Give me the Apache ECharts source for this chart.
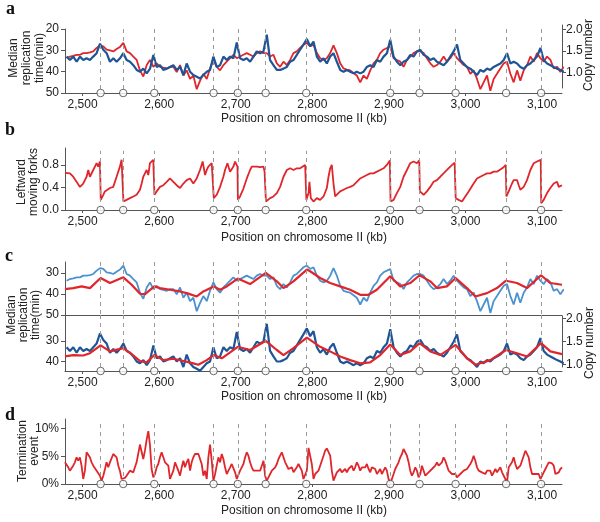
<!DOCTYPE html>
<html><head><meta charset="utf-8">
<script src="https://cdn.jsdelivr.net/npm/echarts@6/dist/echarts.min.js"></script>
<style>html,body{margin:0;padding:0;background:#fff}#c{width:600px;height:522px}</style>
</head><body><div id="c"></div>
<script>
// ---------- data ----------
const origins = [2523.5, 2553, 2593.6, 2671, 2702.6, 2739, 2792, 2901.7, 2940, 2987, 3053, 3098.7];
const xTicks = [2500, 2600, 2700, 2800, 2900, 3000, 3100];

// panel a / c positions (kb)
const posA = [2479.1,2483.4,2487.8,2492.2,2496.5,2500.9,2505.2,2509.6,2513.9,2518.3,
2522.7,2527.0,2531.4,2535.7,2540.1,2544.4,2548.8,2553.2,2557.5,2561.9,
2566.2,2570.6,2574.9,2579.3,2583.7,2588.0,2592.4,2596.7,2601.1,2605.4,
2609.8,2614.2,2618.5,2622.9,2627.2,2631.6,2635.9,2640.3,2644.6,2649.0,
2653.4,2657.7,2662.1,2666.4,2670.8,2675.1,2679.5,2683.9,2688.2,2692.6,
2696.9,2701.3,2705.6,2710.0,2714.3,2718.7,2723.1,2727.4,2731.8,2736.1,
2740.5,2744.8,2749.2,2753.6,2757.9,2762.3,2766.6,2771.0,2775.3,2779.7,
2784.0,2788.4,2792.8,2797.1,2801.5,
2805.9,2810.2,2814.6,2818.9,2823.3,2827.6,2832.0,2836.4,2840.7,2845.1,
2849.4,2853.8,2858.1,2862.5,2866.9,2871.2,2875.6,2879.9,2884.3,2888.6,
2893.0,2897.4,2901.7,2906.1,2910.4,2914.8,2919.1,2923.5,2927.9,2932.2,
2936.6,2940.9,2945.3,2949.6,2954.0,2958.4,2962.7,2967.1,2971.4,2975.8,
2980.1,2984.5,2988.9,2993.2,2997.6,3001.9,3006.3,3010.6,3015.0,3019.4,
3023.7,3028.1,3032.4,3036.8,3041.1,3045.5,3049.9,3054.2,3058.6,3062.9,
3067.3,3071.6,3076.0,3080.4,3084.7,3089.1,3093.4,3097.8,3102.1,3106.5,
3110.9,3115.2,3119.6,3123.9,3128.3];

// median replication time (min)
const repTime = [33.7,32.9,32.6,32.1,32.1,31.3,31.3,31.0,30.5,28.9,
27.7,28.1,29.7,30.0,30.5,29.4,28.4,26.5,30.5,31.3,
32.9,34.5,39.4,42.3,36.9,34.5,37.7,36.1,37.7,38.1,
38.5,37.7,37.7,40.2,36.9,41.8,39.4,43.4,41.8,48.2,
44.2,41.0,43.4,38.5,34.5,37.7,39.4,36.9,35.3,33.7,
32.1,33.7,32.9,32.1,31.3,32.1,32.9,31.3,30.5,31.3,
31.3,32.9,32.1,36.1,37.7,35.3,36.9,34.5,31.3,30.5,
28.9,27.3,26.5,28.1,27.3,
31.3,33.7,34.5,33.7,31.3,27.7,31.3,36.1,38.5,39.0,
39.4,40.6,41.8,45.0,41.8,43.4,39.4,36.1,34.5,31.3,
29.7,28.9,28.1,33.7,34.5,35.3,37.7,34.5,32.9,31.3,
30.5,30.5,31.3,33.7,36.1,37.7,36.9,35.3,32.9,35.3,
33.7,31.3,33.7,35.3,36.9,37.7,41.0,39.4,43.4,48.2,
45.0,41.8,49.0,43.4,41.0,38.5,36.1,35.3,41.0,45.0,
39.4,44.2,39.4,36.9,32.9,35.3,31.3,33.7,35.3,32.9,
34.5,38.5,37.7,40.2,37.7];

// copy number
const copyNum = [1.37,1.29,1.37,1.25,1.37,1.29,1.33,1.29,1.37,1.45,
1.67,1.53,1.45,1.25,1.33,1.25,1.33,1.45,1.29,1.25,
1.17,1.06,1.02,1.09,0.98,1.09,1.41,1.13,1.17,1.06,
1.09,1.13,1.17,1.06,1.13,0.94,1.21,1.02,0.94,0.90,
0.86,0.94,1.02,1.06,1.37,1.13,1.17,1.37,1.29,1.37,
1.33,1.70,1.33,1.29,1.33,1.25,1.37,1.49,1.45,1.49,
1.88,1.29,1.17,1.06,1.06,1.09,1.13,1.25,1.29,1.41,
1.53,1.65,1.78,1.61,1.72,
1.37,1.25,1.33,1.21,1.37,1.45,1.25,1.06,1.02,1.06,
1.02,0.98,1.02,0.98,1.02,1.13,1.17,1.13,1.29,1.25,
1.37,1.45,1.76,1.37,1.25,1.17,1.25,1.29,1.41,1.37,
1.49,1.53,1.41,1.37,1.29,1.33,1.25,1.21,1.17,1.25,
1.37,1.49,1.65,1.29,1.21,1.13,1.09,1.02,0.94,1.06,
1.02,1.09,1.06,1.13,1.17,1.21,1.29,1.45,1.21,1.25,
1.21,1.13,1.09,1.17,1.21,1.29,1.37,1.57,1.29,1.21,
1.17,1.13,1.09,1.06,1.02];

// panel b: leftward moving forks
const forkPos = [2477.0,2479.0,2483.4,2487.7,2492.1,2496.5,2500.8,2503.0,2505.2,2507.4,2509.5,2513.9,2518.3,2520.4,2522.6,2523.3,
2523.7,2527.0,2529.1,2531.3,2535.7,2540.0,2544.4,2548.7,2550.9,2552.8,
2553.3,2557.4,2561.8,2566.2,2570.5,2574.9,2577.1,2579.2,2581.4,2583.6,2585.8,2587.9,2590.1,2592.3,2593.3,
2593.8,2596.7,2601.0,2605.4,2609.8,2614.1,2618.5,2622.8,2627.2,2631.6,2635.9,2640.3,2644.6,2649.0,2653.3,2656.8,2659.9,2662.1,2664.2,2666.4,2668.6,2670.7,
2671.3,2675.1,2679.5,2683.8,2686.0,2689.1,2692.6,2696.9,2699.1,2702.2,
2702.8,2705.6,2710.0,2714.4,2718.7,2720.9,2723.1,2727.4,2731.8,2736.2,2737.6,2738.9,
2739.4,2744.9,2749.2,2753.6,2757.9,2762.3,2766.7,2771.0,2775.4,2779.7,2784.1,2787.5,2790.6,2791.6,
2792.2,2795.0,2796.2,2798.0,2801.5,2805.8,2810.2,2814.6,2818.9,2821.1,2823.3,2825.4,2827.6,2829.8,2832.0,2836.3,2840.7,2845.1,2849.4,2853.8,2858.1,2862.5,2866.8,2871.2,2875.6,2879.9,2884.3,2888.6,2893.0,2897.3,2901.2,
2902.1,2906.1,2910.4,2914.8,2919.1,2923.5,2927.8,2932.2,2936.6,2939.6,
2940.4,2945.3,2949.6,2954.0,2958.3,2962.7,2967.1,2971.4,2975.8,2980.1,2985.8,2986.6,
2987.2,2991.0,2995.4,2999.7,3004.1,3010.6,3015.0,3019.3,3023.7,3028.1,3032.4,3036.8,3041.1,3045.5,3049.8,3052.6,
3053.4,3056.4,3060.7,3062.9,3067.3,3069.5,3071.6,3076.0,3080.3,3084.7,3089.1,3093.4,3098.2,
3098.9,3102.1,3106.5,3110.8,3115.2,3119.6,3121.7,3126.0];
const forkVal = [0.66,0.68,0.65,0.59,0.50,0.41,0.47,0.53,0.59,0.71,0.59,0.71,0.83,0.77,0.86,0.88,
0.18,0.27,0.33,0.30,0.39,0.41,0.59,0.77,0.89,0.90,
0.15,0.18,0.21,0.24,0.27,0.36,0.47,0.59,0.65,0.71,0.62,0.83,0.86,0.89,0.88,
0.27,0.33,0.41,0.44,0.50,0.56,0.50,0.44,0.39,0.47,0.53,0.56,0.47,0.56,0.71,0.86,0.62,0.71,0.77,0.77,0.83,0.86,
0.21,0.27,0.41,0.59,0.71,0.83,0.68,0.77,0.86,0.77,
0.18,0.24,0.38,0.56,0.71,0.77,0.77,0.77,0.76,0.77,0.68,0.71,
0.15,0.21,0.24,0.30,0.41,0.59,0.71,0.74,0.71,0.74,0.74,0.77,0.80,0.83,
0.18,0.30,0.50,0.21,0.15,0.21,0.18,0.24,0.39,0.59,0.74,0.80,0.47,0.24,0.27,0.33,0.36,0.39,0.41,0.44,0.50,0.56,0.59,0.62,0.65,0.65,0.68,0.71,0.74,0.80,0.88,
0.15,0.18,0.30,0.41,0.59,0.71,0.83,0.86,0.83,0.88,
0.33,0.27,0.33,0.41,0.50,0.53,0.59,0.65,0.71,0.77,0.84,0.86,
0.21,0.18,0.15,0.24,0.33,0.47,0.56,0.59,0.62,0.65,0.65,0.68,0.68,0.72,0.76,0.80,
0.24,0.33,0.47,0.53,0.53,0.44,0.36,0.41,0.53,0.71,0.83,0.86,0.89,
0.12,0.18,0.30,0.39,0.47,0.50,0.41,0.44];

// panel c: model curves
const modelTimePos = [2477,2487.8,2498.7,2509.6,2523.5,2535.7,2553.2,2564.0,2575.0,2581.5,2593.6,2601.1,2614.1,2627.2,2636.0,2649.0,2657.7,2671.2,2679.5,2688.2,2702.6,2718.7,2739.2,2753.6,2762.3,2775.3,2792.8,2797.1,2810.2,2823.2,2836.3,2849.4,2862.5,2873.3,2884.2,2901.7,2914.7,2927.8,2940.0,2954.0,2962.7,2975.7,2987.1,3001.9,3012.8,3028.0,3041.1,3052.9,3067.2,3080.3,3098.6,3110.8,3126.0];
const modelTime = [37.7,37.2,36.4,37.2,32.4,34.8,32.1,35.6,39.9,40.1,36.4,37.2,38.0,38.8,39.6,41.2,38.8,36.4,38.0,36.4,32.7,35.3,30.0,34.0,37.2,34.0,28.4,29.2,32.4,34.8,36.4,38.0,40.4,40.4,38.0,31.6,36.4,34.8,31.1,34.0,37.2,36.4,32.4,37.2,41.2,39.6,37.2,33.7,34.8,37.2,31.1,34.8,35.6];
const modelCopyPos = [2477,2487.8,2500.9,2509.6,2523.5,2535.7,2553.2,2564.0,2575.0,2583.7,2593.6,2605.4,2618.5,2631.6,2644.6,2651.2,2662.1,2671.2,2681.7,2702.6,2718.7,2739.2,2753.6,2762.3,2775.3,2792.8,2797.1,2810.2,2823.2,2836.3,2849.4,2862.5,2875.5,2888.6,2901.7,2914.7,2927.8,2940.0,2954.0,2967.0,2987.1,3001.9,3012.8,3032.4,3052.9,3067.2,3080.3,3098.6,3110.8,3126.0];
const modelCopy = [1.17,1.20,1.19,1.24,1.41,1.28,1.35,1.22,1.07,1.04,1.20,1.09,1.12,1.07,1.02,0.99,1.09,1.20,1.13,1.38,1.31,1.51,1.31,1.20,1.35,1.58,1.53,1.38,1.28,1.17,1.09,1.02,1.04,1.20,1.43,1.20,1.28,1.46,1.28,1.20,1.42,1.13,0.99,1.09,1.31,1.24,1.17,1.46,1.28,1.22];

// panel d: termination events (%)
const termPos = [2476.9,2479.0,2481.2,2483.4,2485.5,2487.7,2489.9,2492.1,2494.2,2496.5,
2498.6,2500.8,2503.0,2505.2,2507.3,2509.5,2511.7,2513.9,2516.1,2518.3,
2520.4,2522.6,2524.8,2527.0,2529.2,2531.3,2533.5,2535.7,2537.9,2540.0,
2542.2,2544.4,2546.6,2548.7,2550.9,2553.1,2555.3,2557.4,2559.6,2561.8,
2564.0,2566.2,2568.3,2570.5,2572.7,2574.9,2577.1,2579.2,2581.4,2583.6,
2585.8,2587.9,2590.1,2592.3,2594.5,2596.7,2598.8,2601.0,2603.2,2605.4,
2607.6,2609.8,2611.9,2614.1,2616.3,2618.5,2620.7,2622.8,2625.0,2627.2,
2629.4,2631.6,2633.7,2635.9,2638.1,2640.3,2642.4,2644.6,2646.8,2649.0,
2651.2,2653.3,2655.5,2657.7,2659.9,2662.1,2664.2,2666.4,2668.6,2670.8,
2673.0,2675.1,2677.3,2679.5,2681.7,2683.8,2686.0,2688.2,2690.4,2692.6,
2694.7,2696.9,2699.1,2701.3,2703.5,2705.6,2707.8,2710.0,2712.2,2714.4,
2716.5,2718.7,2720.9,2723.1,2725.3,2727.4,2729.6,2731.8,2734.0,2736.2,
2738.3,2740.5,2742.7,2744.9,2747.1,2749.2,2751.4,2753.6,2755.8,2757.9,
2760.1,2762.3,2764.5,2766.7,2768.8,2771.0,2773.2,2775.4,2777.6,2779.7,
2781.9,2784.1,
2786.2,2788.4,2790.6,2792.8,2795.0,2797.1,2799.3,2801.5,2803.7,2805.8,
2808.0,2810.2,2812.4,2814.6,2816.7,2818.9,2821.1,2823.3,2825.4,2827.6,
2829.8,2832.0,2834.2,2836.3,2838.5,2840.7,2842.9,2845.1,2847.2,2849.4,
2851.6,2853.8,2855.9,2858.1,2860.3,2862.5,2864.7,2866.8,2869.0,2871.2,
2873.4,2875.6,2877.7,2879.9,2882.1,2884.3,2886.4,2888.6,2890.8,2893.0,
2895.2,2897.3,2899.5,2901.7,2903.9,2906.1,2908.2,2910.4,2912.6,2914.8,
2917.0,2919.1,2921.3,2923.5,2925.7,2927.8,2930.0,2932.2,2934.4,2936.6,
2938.7,2940.9,2943.1,2945.3,2947.5,2949.6,2951.8,2954.0,2956.2,2958.3,
2960.5,2962.7,2964.9,2967.1,2969.2,2971.4,2973.6,2975.8,2978.0,2980.1,
2982.3,2984.5,2986.7,2988.8,2991.0,2993.2,2995.4,2997.6,2999.7,3001.9,
3004.1,3006.3,3008.5,3010.6,3012.8,3015.0,3017.2,3019.3,3021.5,3023.7,
3025.9,3028.1,3030.2,3032.4,3034.6,3036.8,3039.0,3041.1,3043.3,3045.5,
3047.7,3049.8,3052.0,3054.2,3056.4,3058.6,3060.7,3062.9,3065.1,3067.3,
3069.5,3071.6,3073.8,3076.0,3078.2,3080.3,3082.5,3084.7,3086.9,3089.1,
3091.2,3093.4,3095.6,3097.8,3100.0,3102.1,3104.3,3106.5,3108.7,3110.8,
3113.0,3115.2,3117.4,3119.6,3121.7,3123.9,3126.1];
const termVal = [3.9,3.6,3.0,2.4,2.7,3.3,3.9,4.8,4.2,4.8,
3.3,0.9,2.4,5.7,5.4,4.8,3.9,3.3,3.0,2.4,
2.4,1.5,0.6,1.5,2.7,3.9,3.0,3.9,3.9,5.4,
5.7,4.8,3.3,2.4,0.9,0.6,1.1,1.5,1.8,2.4,
2.7,2.1,3.0,3.9,3.6,7.1,7.1,4.5,6.0,8.0,
9.5,7.1,2.7,1.2,1.8,3.0,3.6,4.8,5.7,4.8,
3.9,4.2,3.3,0.9,0.6,2.4,3.9,3.6,2.4,1.5,
3.0,4.2,3.0,3.9,4.5,2.4,3.9,4.8,5.4,5.1,
5.4,5.1,3.6,1.5,2.4,0.9,4.8,7.1,4.2,0.6,
1.8,3.3,4.8,3.9,5.4,4.5,3.0,1.8,2.4,3.0,
3.6,3.9,2.1,0.9,1.2,2.4,3.0,3.6,4.8,5.7,
5.1,3.9,3.0,2.4,2.7,2.4,2.1,2.4,3.3,4.2,
1.5,0.6,1.2,1.8,2.4,2.7,3.0,3.6,4.5,5.1,
5.7,4.8,3.9,3.3,2.7,2.4,3.0,2.1,2.4,3.0,
3.6,3.3,
2.4,0.9,0.6,2.4,6.5,6.8,3.6,0.9,1.8,2.1,
2.4,3.3,4.2,5.1,6.0,6.4,6.1,5.1,2.4,0.6,
0.9,2.1,2.4,2.7,2.1,2.4,2.7,2.1,2.7,2.4,
3.3,2.4,3.0,3.9,3.3,2.4,3.0,3.3,3.0,3.6,
2.7,2.1,3.0,3.3,2.7,1.8,2.1,2.7,1.8,2.4,
3.0,2.4,0.9,0.3,0.9,1.8,2.7,3.0,3.9,4.8,
5.4,6.3,6.1,5.1,3.9,2.4,1.5,2.1,3.0,2.4,
1.2,1.8,3.3,2.4,1.5,1.8,2.1,2.4,2.7,2.4,
3.3,3.9,3.3,3.0,3.9,4.8,4.2,3.3,2.4,2.1,
1.8,1.5,1.8,1.2,0.9,1.8,2.1,2.4,2.1,2.7,
3.0,3.6,4.2,5.1,4.2,3.0,2.4,2.7,2.1,2.4,
1.8,2.4,2.1,2.4,1.5,2.1,2.7,2.1,2.4,3.0,
2.1,2.4,0.9,0.3,3.0,3.3,3.9,4.8,3.6,2.7,
2.4,3.3,4.2,5.1,6.0,5.7,4.8,3.0,1.8,1.5,
1.8,2.1,1.8,0.9,1.2,2.1,2.7,3.3,3.9,3.6,
3.7,3.3,1.8,1.5,2.1,2.7,3.0];

// ---------- styling ----------
const X_MIN = 2477, X_MAX = 3126;
const RED = '#e0262b', DBLUE = '#1e5597', LBLUE = '#4a92cf';
const AX = '#555', TXT = '#222', DASH = '#9a9a9a';
const FONT = '"Liberation Sans", Arial, Helvetica, sans-serif';
const zip = (p, v) => p.map((x, i) => [x, v[i]]);
const kbFmt = v => String(v).replace(/\B(?=(\d{3})+(?!\d))/g, ',');

const L = 65, W = 497;
const grids = [
  {left: L, top: 29, width: W, height: 64},   // 0 a left
  {left: L, top: 25, width: W, height: 63},   // 1 a right
  {left: L, top: 148, width: W, height: 62},  // 2 b
  {left: L, top: 262, width: W, height: 53},  // 3 c top
  {left: L, top: 315, width: W, height: 56},  // 4 c bottom left
  {left: L, top: 316, width: W, height: 51},  // 5 c bottom right
  {left: L, top: 419, width: W, height: 65}   // 6 d
];

function xAx(g, mode) {
  return {
    type: 'value', gridIndex: g, min: X_MIN, max: X_MAX, show: mode !== 'none',
    splitLine: {show: false},
    axisLine: {show: true, onZero: false, lineStyle: {color: AX, width: 1}},
    axisTick: {show: mode === 'full', length: 3, customValues: xTicks, lineStyle: {color: AX}},
    axisLabel: {show: mode === 'full', customValues: xTicks, formatter: kbFmt, margin: 6,
      color: TXT, fontSize: 12, fontFamily: FONT}
  };
}
function yAx(g, min, max, ticks, opt) {
  opt = opt || {};
  return {
    type: 'value', gridIndex: g, min: min, max: max, inverse: !!opt.inverse,
    position: opt.right ? 'right' : 'left',
    splitLine: {show: false},
    axisLine: {show: true, lineStyle: {color: AX, width: 1}},
    axisTick: {show: true, length: 4, customValues: ticks, lineStyle: {color: AX}},
    axisLabel: {customValues: ticks, formatter: opt.fmt || (v => String(v)), margin: opt.right ? 4 : 6,
      color: TXT, fontSize: 12, fontFamily: FONT}
  };
}

function dashSeries(g, y0, y1, anyY) {
  const data = (y0 === null)
    ? origins.map(v => ({xAxis: v}))
    : origins.map(v => [{coord: [v, y0]}, {coord: [v, y1]}]);
  return {
    type: 'line', xAxisIndex: g, yAxisIndex: g, data: [[X_MIN, anyY]], showSymbol: false,
    lineStyle: {width: 0}, z: 1, silent: true,
    markLine: {symbol: 'none', silent: true, animation: false, label: {show: false},
      lineStyle: {type: [4, 4], color: DASH, width: 1}, data: data}
  };
}
function circles(g, y) {
  return {
    type: 'scatter', xAxisIndex: g, yAxisIndex: g, data: origins.map(v => [v, y]),
    symbol: 'circle', symbolSize: 7.5, clip: false, z: 10, silent: true,
    itemStyle: {color: '#fff', borderColor: '#444', borderWidth: 1}
  };
}
function line(g, data, color, width, z, clip) {
  return {
    type: 'line', xAxisIndex: g, yAxisIndex: g, data: data, showSymbol: false, symbol: 'none',
    lineStyle: {color: color, width: width}, z: z, clip: clip !== false, silent: true
  };
}

const one = v => v.toFixed(1);
const option = {
  animation: false,
  grid: grids,
  xAxis: [xAx(0, 'full'), xAx(1, 'none'), xAx(2, 'full'), xAx(3, 'line'), xAx(4, 'full'), xAx(5, 'none'), xAx(6, 'full')],
  yAxis: [
    yAx(0, 20, 50, [20, 30, 40, 50], {inverse: true}),
    yAx(1, 0.64, 2.105, [1, 1.5, 2], {right: true, fmt: one}),
    yAx(2, 0, 1.1, [0, 0.4, 0.8], {fmt: one}),
    yAx(3, 24.8, 50, [30, 40, 50], {inverse: true}),
    yAx(4, 17.4, 44.5, [30, 40], {inverse: true}),
    yAx(5, 0.94, 2.05, [1, 1.5, 2], {right: true, fmt: one}),
    yAx(6, 0, 11.7, [0, 5, 10], {fmt: v => v + '%'})
  ],
  series: [
    dashSeries(0, null, null, 30),
    line(0, zip(posA, repTime), RED, 1.8, 3),
    line(1, zip(posA, copyNum), DBLUE, 2.2, 4),
    circles(0, 50),

    dashSeries(2, 0, 1.05, 0.5),
    line(2, zip(forkPos, forkVal), RED, 1.8, 3),
    circles(2, 0),

    dashSeries(3, null, null, 30),
    line(3, zip(posA, repTime), LBLUE, 1.8, 3),
    line(3, zip(modelTimePos, modelTime), RED, 2.2, 4),
    dashSeries(4, null, null, 30),
    line(5, zip(posA, copyNum), DBLUE, 2.2, 3, false),
    line(5, zip(modelCopyPos, modelCopy), RED, 2.2, 4, false),
    circles(4, 44.5),

    dashSeries(6, 0, 11.0, 1),
    line(6, zip(termPos, termVal), RED, 1.8, 3),
    circles(6, 0)
  ],
  graphic: []
};

const letterFont = 'bold 18px "Liberation Serif", "Times New Roman", serif';
const txtFont = '12px ' + FONT;
function letter(t, x, y) {
  return {type: 'text', x: x, y: y, silent: true,
    style: {text: t, font: letterFont, fill: '#111', textAlign: 'left', textVerticalAlign: 'middle'}};
}
function htext(t, x, y) {
  return {type: 'text', x: x, y: y, silent: true,
    style: {text: t, font: txtFont, fill: TXT, textAlign: 'center', textVerticalAlign: 'middle'}};
}
function vtext(t, x, y, lh) {
  return {type: 'text', x: x, y: y, rotation: Math.PI / 2, silent: true,
    style: {text: t, font: txtFont, fill: TXT, textAlign: 'center', textVerticalAlign: 'middle', lineHeight: lh || 13}};
}
const xTitle = 'Position on chromosome II (kb)';
option.graphic = [
  letter('a', 6, 9.5), letter('b', 5, 130), letter('c', 5, 256), letter('d', 5, 415),
  htext(xTitle, 304, 118.5), htext(xTitle, 304, 237.5), htext(xTitle, 304, 397), htext(xTitle, 304, 511),
  vtext('Median\nreplication\ntime(min)', 27, 58, 13),
  vtext('Copy number', 589, 55),
  vtext('Leftward\nmoving forks', 27.5, 182, 12),
  vtext('Median\nreplication\ntime(min)', 23.5, 315, 12),
  vtext('Copy number', 590, 343),
  vtext('Termination\nevent', 28.5, 451, 11.5)
];

const chart = echarts.init(document.getElementById('c'), null, {renderer: 'canvas'});
chart.setOption(option);
</script>
</body></html>
